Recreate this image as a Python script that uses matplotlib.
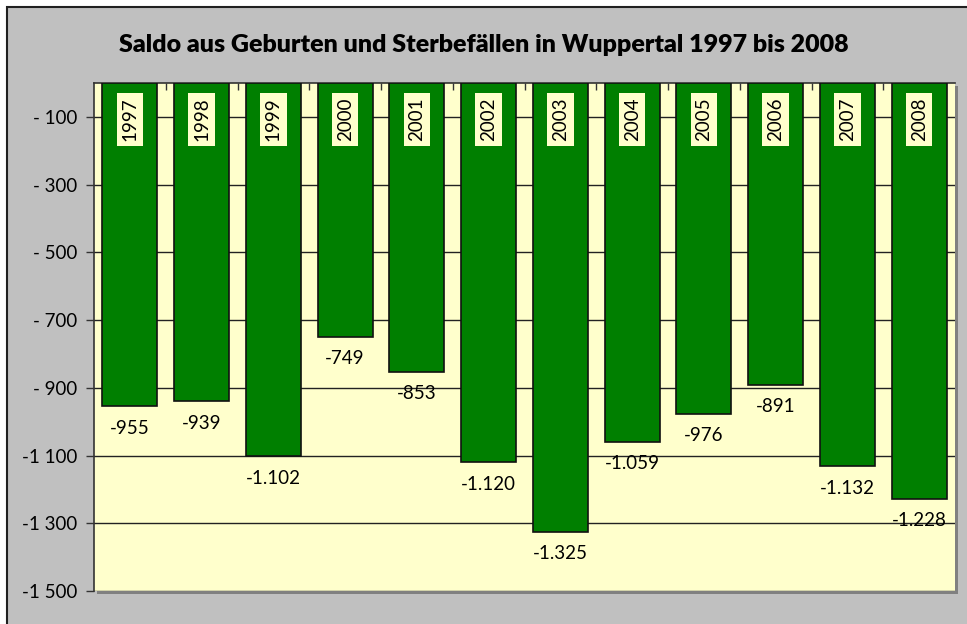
import matplotlib
matplotlib.use("Agg")
import matplotlib.pyplot as plt
from matplotlib.patches import Rectangle

years = ["1997", "1998", "1999", "2000", "2001", "2002", "2003", "2004", "2005", "2006", "2007", "2008"]
values = [-955, -939, -1102, -749, -853, -1120, -1325, -1059, -976, -891, -1132, -1228]
value_labels = ["-955", "-939", "-1.102", "-749", "-853", "-1.120", "-1.325", "-1.059", "-976", "-891", "-1.132", "-1.228"]
yticks = [-100, -300, -500, -700, -900, -1100, -1300, -1500]
ytick_labels = ["- 100", "- 300", "- 500", "- 700", "- 900", "-1 100", "-1 300", "-1 500"]
title = "Saldo aus Geburten und Sterbefällen in Wuppertal 1997 bis 2008"

plt.rcParams['font.family'] = ['Lato', 'DejaVu Sans']

W, H = 967, 624
fig = plt.figure(figsize=(W / 100, H / 100), dpi=100)
fig.patch.set_facecolor("white")
# gray chart area with black border on top/left
fig.patches.append(Rectangle((7 / W, -0.1), 1.2, (H - 7) / H + 0.1, transform=fig.transFigure,
                             facecolor="#C0C0C0", edgecolor="#202020", linewidth=1.5, zorder=0))

left, right, top, bottom = 94, 955, 83, 591
ax = fig.add_axes([left / W, 1 - bottom / H, (right - left) / W, (bottom - top) / H])
# shadow
fig.patches.append(Rectangle(((left + 3) / W, 1 - (bottom + 3) / H), (right - left) / W, (bottom - top) / H,
                             transform=fig.transFigure, facecolor="#808080", edgecolor="none", zorder=0.5))
ax.set_facecolor("#FFFFCC")
ax.set_zorder(1)

x = list(range(len(years)))
ax.bar(x, values, width=0.77, color="#007F00", edgecolor="#111111", linewidth=1.2, zorder=3)
ax.set_xlim(-0.5, len(years) - 0.5)
ax.set_ylim(-1500, 0)

for yv in yticks:
    ax.axhline(yv, color="#222222", linewidth=1.0, zorder=1)

ax.set_yticks(yticks)
ax.set_yticklabels(ytick_labels, fontsize=13.5)
ax.tick_params(axis="y", length=6, width=1, color="#333333", pad=6)

# x ticks at category boundaries along top
ax.set_xticks([i + 0.5 for i in range(len(years) - 1)])
ax.set_xticklabels([])
ax.xaxis.tick_top()
ax.tick_params(axis="x", direction="in", length=5, width=1, color="#333333")

for sp in ax.spines.values():
    sp.set_color("#333333")
    sp.set_linewidth(1.2)
ax.spines["right"].set_visible(False)
ax.spines["bottom"].set_visible(False)

for i, (yr, v, lab) in enumerate(zip(years, values, value_labels)):
    ax.text(i, -108, yr, rotation=90, ha="center", va="center", fontsize=13.5, zorder=5,
            bbox=dict(boxstyle="square,pad=0.25", facecolor="#FFFFCC", edgecolor="none"))
    ax.text(i, v - 65, lab, ha="center", va="center", fontsize=13.5, zorder=5)

fig.text(0.5, 1 - 45 / H, title, ha="center", va="center", fontsize=18, fontweight="heavy")

fig.savefig("out.png", dpi=100)
